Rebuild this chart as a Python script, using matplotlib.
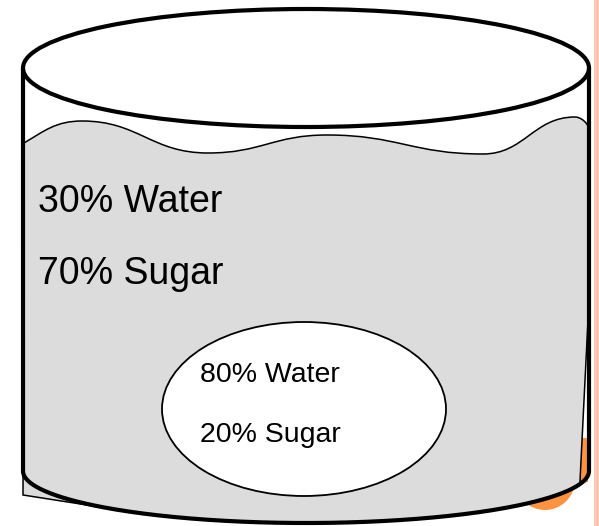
import numpy as np
import matplotlib
matplotlib.use("Agg")
import matplotlib.pyplot as plt
from matplotlib.patches import Ellipse, PathPatch, Polygon, Rectangle
from matplotlib.path import Path

plt.rcParams['font.family'] = ['Liberation Sans', 'DejaVu Sans']

# labels
outer_labels = ["30% Water", "70% Sugar"]
outer_baselines = [212, 284]
inner_labels = ["80% Water", "20% Sugar"]
inner_baselines = [382, 442]

# cylinder geometry (pixel units, y down)
cx, half_w = 306, 283
top_cy, top_h = 68, 118
bot_cy, bot_b = 471, 52
# liquid surface: (x, y) extremes of the wave
wave_pts = [(24, 143), (82, 121), (208, 153), (327, 135), (483, 154), (575, 117), (589, 130)]

GRAY = '#dcdcdc'
ORANGE = '#ff9340'
PEACH = '#fdc8b3'

fig = plt.figure(figsize=(5.99, 5.26), dpi=100)
ax = fig.add_axes([0, 0, 1, 1])
ax.set_xlim(0, 599)
ax.set_ylim(526, 0)
ax.axis('off')

# orange shadow behind the bottom right corner
ax.add_patch(Ellipse((545, 480), 60, 60, facecolor=ORANGE, edgecolor='none', zorder=1))
ax.add_patch(Polygon([(582, 438), (588, 438), (588, 482), (578, 484)],
                     facecolor=ORANGE, edgecolor='none', zorder=1))

# liquid "sheet": wave on top, slightly skewed bottom
verts = [wave_pts[0]]
codes = [Path.MOVETO]
for i in range(len(wave_pts) - 1):
    p, q = wave_pts[i], wave_pts[i + 1]
    dx = q[0] - p[0]
    if i == 0:
        c1 = (p[0] + dx * 0.35, p[1] - 12)
    else:
        c1 = (p[0] + dx * 0.45, p[1])
    if i == len(wave_pts) - 2:
        c2 = (q[0], q[1] - 6)
    else:
        c2 = (q[0] - dx * 0.45, q[1])
    verts += [c1, c2, q]
    codes += [Path.CURVE4] * 3
verts += [(589, 300), (580, 481)]
codes += [Path.LINETO] * 2
xs = np.linspace(580, 130, 40)
ys = bot_cy + bot_b * np.sqrt(np.clip(1 - ((xs - cx) / half_w) ** 2, 0, 1))
for x, y in zip(xs, ys):
    verts.append((x, y))
    codes.append(Path.LINETO)
verts += [(23, 495), (23, 143)]
codes += [Path.LINETO, Path.CLOSEPOLY]
ax.add_patch(PathPatch(Path(verts, codes), facecolor=GRAY, edgecolor='black',
                       linewidth=1.1, zorder=2))

# inner cell
ax.add_patch(Ellipse((304, 409), 284, 174, facecolor='white', edgecolor='black',
                     linewidth=1.3, zorder=3))

# cylinder outline
ax.add_patch(Ellipse((cx, top_cy), 2 * half_w, top_h, facecolor='none',
                     edgecolor='black', linewidth=3, zorder=4))
t = np.linspace(np.pi, 0, 200)
ox = np.concatenate([[cx - half_w], cx + half_w * np.cos(t), [cx + half_w]])
oy = np.concatenate([[top_cy], bot_cy + bot_b * np.sin(t), [top_cy]])
ax.plot(ox, oy, color='black', linewidth=3, solid_joinstyle='round',
        solid_capstyle='round', zorder=4)

for label, yb in zip(outer_labels, outer_baselines):
    ax.text(38, yb, label, fontsize=27, va='baseline', ha='left', zorder=5)
for label, yb in zip(inner_labels, inner_baselines):
    ax.text(200, yb, label, fontsize=20.5, va='baseline', ha='left', zorder=5)

# slide edge stripe
ax.add_patch(Rectangle((594, 0), 5, 526, facecolor=PEACH, edgecolor='none', zorder=6))

fig.savefig('out.png', dpi=100)
